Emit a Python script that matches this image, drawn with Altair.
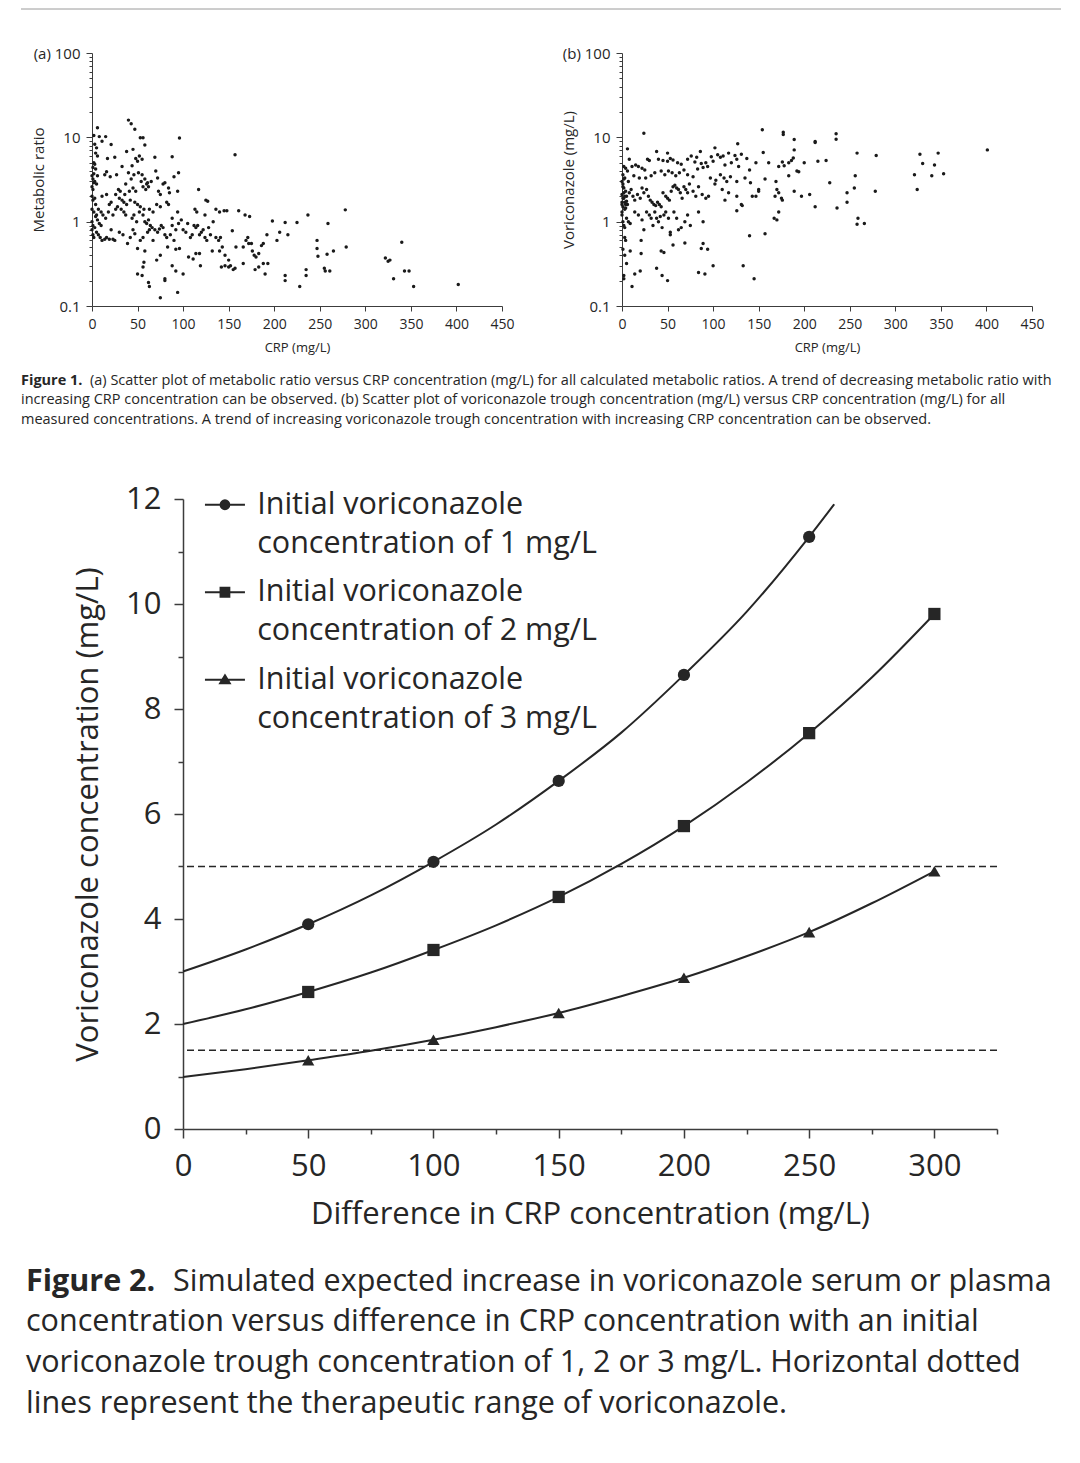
import altair as alt
import pandas as pd

FONT = "Open Sans"
INK = "#262626"
AXC = "#3c3c3c"

# ---------------- Figure 1(a): CRP vs metabolic ratio ----------------
A1_X = [40, 43, 47, 6, 2, 8, 15, 11, 21, 3, 5, 58, 53, 56, 96, 157, 45, 38, 69, 88, 17, 25, 4, 6, 52, 55, 50, 48]
A1_Y = [16, 14.5, 12.5, 13, 10.5, 10.2, 10.2, 9, 8.2, 8.3, 7.5, 8.1, 9.9, 9.9, 9.8, 6.2, 7.2, 6.8, 5.8, 5.9, 5.6, 5.8, 6.5, 6.0, 6.0, 5.5, 5.2, 5.6]
A2_X = [1, 4, 2, 6, 1, 3, 5, 0, 14, 16, 20, 27, 33, 44, 40, 43, 37, 46, 51, 55,
        58, 54, 60, 62, 70, 72, 65, 78, 84, 90, 95, 94, 80, 73, 75, 85, 117, 125, 127, 29,
        31, 26, 41, 45, 36, 48, 56, 59, 61, 11, 16, 21, 19, 30, 33, 35, 38, 42, 47, 50,
        53, 57, 63, 67, 71, 75, 82, 84, 88, 94, 113, 115, 124, 136, 140, 145, 148, 161, 168, 173,
        198, 212, 225, 237, 259, 278]
A2_Y = [4.4, 4.2, 3.7, 3.5, 3.2, 3.0, 2.8, 2.6, 3.6, 3.9, 3.4, 3.6, 4.5, 4.6, 3.8, 3.2, 2.8, 3.6, 3.8, 3.6,
        3.2, 3.0, 2.8, 2.6, 4.0, 3.3, 3.0, 2.8, 2.5, 3.4, 3.8, 2.3, 2.9, 2.3, 2.1, 2.2, 2.4, 1.8, 1.75, 2.4,
        2.3, 2.1, 2.3, 2.5, 2.1, 2.3, 2.6, 2.4, 2.9, 2.0, 2.1, 1.7, 1.6, 1.9, 1.8, 1.7, 1.6, 1.8, 1.7, 1.6,
        1.5, 1.4, 1.4, 1.3, 1.6, 1.5, 1.7, 1.6, 1.1, 1.3, 1.4, 1.3, 1.2, 1.4, 1.3, 1.35, 1.35, 1.35, 1.2, 1.15,
        1.02, 0.98, 0.98, 1.2, 0.95, 1.38]
A3_X = [7, 10, 12, 15, 18, 23, 26, 28, 32, 35, 37, 44, 46, 49, 52, 56, 58, 60, 62, 64,
        66, 69, 72, 74, 76, 78, 80, 82, 86, 88, 90, 92, 95, 98, 100, 103, 105, 108, 110, 112,
        114, 116, 118, 120, 122, 124, 126, 128, 130, 133, 136, 139, 141, 143, 146, 150, 154, 158, 166, 169,
        171, 172, 175, 176, 178, 180, 183, 186, 188, 192, 203, 206, 215, 247, 247, 248, 258, 265, 279, 5,
        7, 9, 11, 14, 16, 19, 21, 23, 25, 30, 34, 39, 42, 45, 47, 50, 53, 56, 58, 61,
        63, 67, 71, 75, 83, 92, 96, 106, 111, 114, 118, 132, 140, 152, 157, 0, 1, 3, 2, 4,
        6, 8, 10]
A3_Y = [1.4, 1.3, 1.2, 1.1, 1.3, 1.2, 1.4, 1.5, 1.4, 1.3, 1.2, 1.1, 1.2, 1.0, 1.3, 1.2, 1.0, 0.95, 1.05, 0.9,
        0.85, 0.8, 0.75, 0.82, 0.9, 0.85, 0.7, 0.65, 0.7, 0.9, 0.6, 0.8, 0.95, 1.05, 0.8, 0.75, 0.95, 0.65, 0.7, 0.9,
        0.85, 0.9, 0.7, 0.75, 0.8, 0.65, 0.6, 0.85, 0.7, 1.0, 0.65, 0.6, 0.65, 0.5, 0.4, 0.35, 0.78, 0.5, 0.5, 0.6,
        0.65, 0.55, 0.55, 0.45, 0.4, 0.38, 0.42, 0.52, 0.55, 0.7, 0.6, 0.75, 0.7, 0.6, 0.48, 0.39, 0.41, 0.45, 0.5, 0.75,
        0.7, 0.65, 0.6, 0.62, 0.65, 0.62, 0.8, 0.62, 0.6, 0.75, 0.7, 0.55, 0.65, 0.8, 0.72, 0.48, 0.6, 0.65, 0.45, 0.75,
        0.8, 0.6, 0.35, 0.4, 0.5, 0.47, 0.48, 0.38, 0.36, 0.42, 0.42, 0.45, 0.45, 0.3, 0.28, 1.0, 0.9, 0.85, 1.3, 1.15,
        1.05, 0.95, 0.9]
A4_X = [50, 55, 56, 57, 62, 63, 75, 80, 80, 88, 92, 94, 100, 119, 142, 146, 150, 155, 166, 179,
        183, 190, 188, 193, 212, 212, 228, 235, 235, 255, 256, 261, 322, 325, 327, 331, 340, 343, 348, 353, 402]
A4_Y = [0.24, 0.23, 0.29, 0.33, 0.19, 0.17, 0.125, 0.21, 0.2, 0.3, 0.26, 0.145, 0.24, 0.3, 0.29, 0.3, 0.29, 0.27, 0.32, 0.27,
        0.29, 0.24, 0.32, 0.32, 0.23, 0.2, 0.17, 0.27, 0.23, 0.28, 0.26, 0.26, 0.37, 0.34, 0.35, 0.21, 0.57, 0.26, 0.26, 0.17, 0.18]
A5_X = [0, 1, 0, 1, 2, 3, 0, 2, 4, 3, 5, 1, 2, 0]
A5_Y = [2.0, 1.8, 1.4, 2.4, 5.0, 4.8, 3.5, 2.9, 1.6, 1.9, 1.2, 0.7, 0.65, 0.8]

# ---------------- Figure 1(b): CRP vs voriconazole ----------------
B1_X = [24, 154, 177, 177, 212, 212, 235, 235, 189, 127, 102, 6, 38, 50, 401, 258, 279, 327, 347, 155,
        117, 86, 189, 124, 131, 76, 82, 98, 105, 111]
B1_Y = [11.2, 12.3, 11.5, 10.8, 8.9, 8.7, 11, 9.5, 9.4, 8.4, 7.5, 7.3, 6.8, 6.5, 7.1, 6.5, 6.1, 6.3, 6.5, 6.6,
        6.5, 6.8, 7.1, 6.1, 6.3, 6.0, 5.8, 5.9, 6.2, 6.0]
B2_X = [8, 28, 30, 40, 45, 50, 53, 56, 61, 65, 72, 80, 87, 92, 100, 108, 113, 120, 126, 128,
        137, 140, 147, 161, 172, 176, 178, 183, 186, 188, 192, 200, 215, 224, 11, 15, 18, 22, 25, 2,
        4, 6, 1, 3, 0, 7, 13, 19, 26, 32, 36, 43, 47, 51, 55, 59, 63, 68, 72, 78,
        83, 89, 94, 97, 103, 108, 112, 115, 119, 126, 135, 141, 150, 157, 169, 183, 194, 228, 256, 321,
        330, 340, 343, 353]
B2_Y = [5.5, 5.5, 5.3, 5.5, 5.3, 5.2, 5.6, 5.4, 5.0, 4.8, 5.5, 5.1, 4.9, 5.0, 5.2, 5.8, 4.7, 5.0, 5.5, 4.5,
        5.6, 4.1, 5.0, 5.0, 4.5, 5.1, 4.6, 5.0, 5.3, 5.7, 4.0, 5.0, 5.2, 5.3, 4.5, 4.7, 4.5, 4.3, 4.1, 4.5,
        4.3, 4.0, 3.6, 3.3, 3.0, 3.0, 3.5, 3.3, 3.3, 3.5, 3.8, 4.0, 3.6, 4.0, 3.8, 3.5, 3.8, 4.1, 3.6, 3.4,
        4.2, 4.4, 4.5, 3.3, 3.1, 3.6, 3.3, 3.0, 3.4, 3.0, 3.3, 2.9, 2.4, 3.2, 3.0, 3.5, 3.9, 2.9, 3.5, 3.6,
        4.9, 3.5, 4.7, 3.7]
B3_X = [1, 2, 4, 0, 5, 2, 3, 0, 1, 4, 6, 8, 10, 12, 14, 17, 20, 22, 24, 27,
        29, 31, 33, 35, 37, 39, 41, 43, 45, 48, 50, 52, 54, 56, 58, 60, 62, 64, 66, 68,
        70, 72, 74, 78, 81, 84, 88, 92, 95, 102, 110, 113, 117, 126, 131, 143, 147, 150, 168, 170,
        172, 175, 176, 189, 197, 206, 212, 236, 247, 247, 255, 278, 324]
B3_Y = [2.8, 2.5, 2.3, 2.1, 2.0, 1.9, 1.7, 1.6, 1.5, 1.45, 1.6, 2.2, 2.4, 2.0, 1.8, 2.1, 1.9, 2.5, 2.2, 2.4,
        2.0, 1.8, 1.7, 1.6, 1.55, 1.7, 1.6, 1.5, 2.2, 2.0, 1.9, 1.8, 2.3, 2.6, 2.7, 2.5, 2.4, 2.2, 1.9, 2.6,
        2.4, 2.2, 2.8, 2.3, 2.0, 2.6, 2.1, 1.9, 2.0, 2.8, 2.4, 1.8, 2.2, 2.0, 1.6, 2.0, 2.0, 2.3, 2.0, 2.4,
        2.2, 1.9, 1.8, 2.3, 2.0, 2.1, 1.5, 1.45, 2.2, 1.7, 2.5, 2.3, 2.4]
B4_X = [0, 1, 2, 3, 5, 7, 9, 14, 18, 22, 24, 27, 30, 32, 34, 36, 38, 40, 42, 44,
        46, 48, 51, 53, 53, 57, 60, 62, 65, 69, 72, 75, 84, 89, 126, 132, 157, 167, 170, 172,
        259, 258, 266, 140]
B4_Y = [1.2, 1.0, 0.9, 0.85, 1.1, 1.0, 0.95, 1.3, 1.2, 1.05, 0.8, 1.3, 1.2, 1.1, 0.9, 1.3, 1.1, 1.0, 1.15, 0.85,
        1.2, 1.3, 1.1, 0.7, 0.75, 1.3, 1.1, 0.8, 0.85, 1.0, 1.2, 0.9, 1.3, 1.0, 1.35, 1.55, 0.72, 1.1, 1.05, 1.3,
        1.1, 0.93, 0.95, 0.68]
B5_X = [3, 4, 1, 3, 5, 2, 2, 9, 11, 14, 20, 21, 21, 38, 43, 44, 46, 50, 56, 69,
        84, 87, 89, 91, 94, 100, 133, 145]
B5_Y = [0.65, 0.6, 0.47, 0.4, 0.32, 0.23, 0.21, 0.45, 0.17, 0.24, 0.26, 0.6, 0.42, 0.28, 0.45, 0.23, 0.43, 0.2, 0.53, 0.56,
        0.25, 0.48, 0.55, 0.24, 0.47, 0.3, 0.3, 0.21]
B6_X = [0, 1, 2, 3, 1, 2, 4, 0, 3, 5]
B6_Y = [1.7, 1.9, 2.2, 1.4, 2.6, 3.2, 1.6, 1.3, 2.0, 1.75]

# ---------------- Figure 2: simulated curves ----------------
SERIES = ["Initial voriconazole|concentration of 1 mg/L",
          "Initial voriconazole|concentration of 2 mg/L",
          "Initial voriconazole|concentration of 3 mg/L"]
C1_X = [0, 25, 50, 75, 100, 125, 150, 175, 200, 225, 250, 260]
C1_Y = [3.0, 3.42, 3.90, 4.45, 5.09, 5.80, 6.63, 7.55, 8.65, 9.85, 11.28, 11.9]
C23_X = [0, 25, 50, 75, 100, 125, 150, 175, 200, 225, 250, 275, 300]
C2_Y = [2.0, 2.28, 2.61, 2.98, 3.41, 3.88, 4.42, 5.05, 5.77, 6.60, 7.54, 8.60, 9.81]
C3_Y = [0.99, 1.14, 1.31, 1.49, 1.70, 1.94, 2.21, 2.53, 2.88, 3.29, 3.75, 4.30, 4.91]
THERAPEUTIC = [5.0, 1.5]

CAP1_HEAD = "Figure 1."
CAP1_FIRST = "(a) Scatter plot of metabolic ratio versus CRP concentration (mg/L) for all calculated metabolic ratios. A trend of decreasing metabolic ratio with"
CAP1_REST = ["increasing CRP concentration can be observed. (b) Scatter plot of voriconazole trough concentration (mg/L) versus CRP concentration (mg/L) for all",
             "measured concentrations. A trend of increasing voriconazole trough concentration with increasing CRP concentration can be observed."]
CAP2_HEAD = "Figure 2."
CAP2_FIRST = "Simulated expected increase in voriconazole serum or plasma"
CAP2_REST = ["concentration versus difference in CRP concentration with an initial",
             "voriconazole trough concentration of 1, 2 or 3 mg/L. Horizontal dotted",
             "lines represent the therapeutic range of voriconazole."]

LOG_TICKS = [0.1, 0.2, 0.3, 0.4, 0.5, 0.6, 0.7, 0.8, 0.9,
             1, 2, 3, 4, 5, 6, 7, 8, 9,
             10, 20, 30, 40, 50, 60, 70, 80, 90, 100]


def scatter_panel(xs, ys, letter, ytitle):
    df = pd.DataFrame({"crp": xs, "val": ys})
    major = "datum.value == 0.1 || datum.value == 1 || datum.value == 10 || datum.value == 100"
    lab = f"datum.value == 100 ? '({letter}) 100' : (({major}) ? datum.label : '')"
    return alt.Chart(df).mark_circle(size=12, color="#1a1a1a", opacity=1).encode(
        x=alt.X("crp:Q", scale=alt.Scale(domain=[0, 450], nice=False, zero=False),
                axis=alt.Axis(values=list(range(0, 451, 50)), title="CRP (mg/L)", grid=False,
                              tickSize=5, labelPadding=6, labelFontSize=14, titleFontSize=13,
                              labelFlush=False, titleY=41, titleBaseline="middle")),
        y=alt.Y("val:Q", scale=alt.Scale(type="log", domain=[0.1, 100], nice=False),
                axis=alt.Axis(values=LOG_TICKS, format="~g", labelExpr=lab, labelOverlap=False,
                              tickSize={"condition": {"test": major, "value": 6}, "value": 3},
                              title=ytitle, titleX=-53.5, titleY=126.5, titleAngle=-90,
                              titleBaseline="middle", grid=False, labelFontSize=15,
                              titleFontSize=15, labelPadding=6, labelFlush=False)),
    ).properties(width=410, height=253)


def caption(head, first, rest, size, spacing, width, height, top, head_x, first_dx):
    lo = -top / spacing
    hi = lo + height / spacing
    ysc = alt.Scale(domain=[lo, hi], reverse=True, nice=False, zero=False)
    common = dict(align="left", baseline="middle", fontSize=size, font=FONT, color=INK)
    h = alt.Chart(pd.DataFrame({"line": [0], "t": [head]})).mark_text(fontWeight="bold", **common).encode(
        x=alt.value(head_x), y=alt.Y("line:Q", scale=ysc, axis=None), text="t:N")
    f = alt.Chart(pd.DataFrame({"line": [0], "t": [first]})).mark_text(**common).encode(
        x=alt.value(head_x + first_dx), y=alt.Y("line:Q", scale=ysc, axis=None), text="t:N")
    r = alt.Chart(pd.DataFrame({"line": list(range(1, len(rest) + 1)), "t": rest})).mark_text(**common).encode(
        x=alt.value(head_x), y=alt.Y("line:Q", scale=ysc, axis=None), text="t:N")
    return alt.layer(h, f, r).properties(width=width, height=height)


def spacer(w):
    return alt.Chart(pd.DataFrame({"z": [0]})).mark_text(text="").encode(
        x=alt.value(1), y=alt.value(1)).properties(width=w, height=2)


panel_a = scatter_panel(A1_X + A2_X + A3_X + A4_X + A5_X, A1_Y + A2_Y + A3_Y + A4_Y + A5_Y, "a", "Metabolic ratio")
panel_b = scatter_panel(B1_X + B2_X + B3_X + B4_X + B5_X + B6_X, B1_Y + B2_Y + B3_Y + B4_Y + B5_Y + B6_Y, "b", "Voriconazole (mg/L)")

# ---- Figure 2 ----
curve_df = pd.DataFrame({
    "series": [SERIES[0]] * len(C1_X) + [SERIES[1]] * len(C23_X) + [SERIES[2]] * len(C23_X),
    "d": C1_X + C23_X + C23_X,
    "conc": C1_Y + C2_Y + C3_Y,
})
xmaj = "datum.value % 50 == 0 && datum.value <= 300"
ymaj = "datum.value % 2 == 0"
X2 = alt.X("d:Q", scale=alt.Scale(domain=[0, 325], nice=False, zero=False),
           axis=alt.Axis(values=list(range(0, 326, 25)), labelExpr=f"({xmaj}) ? datum.label : ''",
                         tickSize={"condition": {"test": xmaj, "value": 9}, "value": 5},
                         title="Difference in CRP concentration (mg/L)", grid=False,
                         labelFontSize=31, titleFontSize=31, labelPadding=13, labelFlush=False,
                         labelOverlap=False, titleY=85, titleBaseline="middle",
                         domainWidth=1.5, tickWidth=1.5))
Y2 = alt.Y("conc:Q", scale=alt.Scale(domain=[0, 12], nice=False, zero=False),
           axis=alt.Axis(values=list(range(0, 13)), labelExpr=f"({ymaj}) ? datum.label : ''",
                         tickSize={"condition": {"test": ymaj, "value": 9}, "value": 5},
                         title="Voriconazole concentration (mg/L)", grid=False,
                         labelFontSize=31, titleFontSize=31, labelPadding=13, labelFlush=False,
                         labelOverlap=False, titleX=-95, titleY=315, titleAngle=-90,
                         titleBaseline="middle", domainWidth=1.5, tickWidth=1.5))

rules = alt.Chart(pd.DataFrame({"conc": THERAPEUTIC})).mark_rule(
    strokeDash=[7, 4], strokeWidth=1.4, color=INK).encode(y=Y2)
lines = alt.Chart(curve_df).mark_line(interpolate="monotone", strokeWidth=2, color=INK).encode(
    x=X2, y=Y2, detail="series:N")
mk = alt.Chart(curve_df).transform_filter("datum.d % 50 == 0 && datum.d > 0")
markers = mk.mark_point(filled=True, opacity=1, color=INK, size=150).encode(
    x=X2, y=Y2,
    shape=alt.Shape("series:N", scale=alt.Scale(domain=SERIES, range=["circle", "square", "triangle-up"]),
                    legend=None))


def circ(r):
    return f"M{r},0A{r},{r},0,1,1,{-r},0A{r},{r},0,1,1,{r},0Z"


def sq(h):
    return f"M{-h},{-h}H{h}V{h}H{-h}Z"


def tri(s):
    return f"M0,{-0.33 * s:.3f}L{0.36 * s:.3f},{0.27 * s:.3f}H{-0.36 * s:.3f}Z"


SEG = "M-1.5,0H1.5"
PATHS = [SEG + circ(0.33) + circ(0.2) + circ(0.08),
         SEG + sq(0.33) + sq(0.2) + sq(0.08),
         SEG + tri(1.0) + tri(0.6) + tri(0.25)]
legend_layer = mk.mark_point(filled=False, opacity=0, color=INK, strokeWidth=2).encode(
    x=X2, y=Y2,
    shape=alt.Shape("series:N", scale=alt.Scale(domain=SERIES, range=PATHS),
                    legend=alt.Legend(orient="none", legendX=26.7, legendY=-9.5, title=None,
                                      labelExpr="split(datum.label, '|')", labelFontSize=30.5,
                                      labelColor=INK, labelFont=FONT, symbolSize=711,
                                      symbolStrokeWidth=2, symbolStrokeColor=INK,
                                      symbolOpacity=1, labelOffset=17,
                                      rowPadding=17.5, labelLimit=900)))
fig2 = alt.layer(rules, lines, markers, legend_layer).resolve_scale(shape="independent").properties(
    width=814, height=630)

row0 = alt.Chart(pd.DataFrame({"z": [0]})).mark_rule(color="#9a9a9a", strokeWidth=1).encode(
    x=alt.value(0), x2=alt.value(1040), y=alt.value(0)).properties(width=1040, height=37)
row1 = alt.hconcat(spacer(10), alt.hconcat(panel_a, panel_b, spacing=46), spacing=0)
row2 = caption(CAP1_HEAD, CAP1_FIRST, CAP1_REST, 14.5, 19.5, 1040, 128.5, 26.5, 0, 69)
row3 = alt.hconcat(spacer(51), fig2, spacing=0)
row4 = caption(CAP2_HEAD, CAP2_FIRST, CAP2_REST, 30.5, 40.7, 1040, 215, 52.5, 5, 147)

chart = alt.vconcat(row0, row1, row2, row3, row4, spacing=0).properties(
    padding={"left": 12, "top": 0, "right": 0, "bottom": 0}
).configure(font=FONT, background="white",
            style={"guide-label": {"lineHeight": 39}}).configure_view(stroke=None).configure_axis(
    labelColor=INK, titleColor=INK, domainColor=AXC, tickColor=AXC, titleFontWeight="normal",
    labelFont=FONT, titleFont=FONT)

chart.save("out.html", embed_options={"renderer": "svg", "actions": False})
